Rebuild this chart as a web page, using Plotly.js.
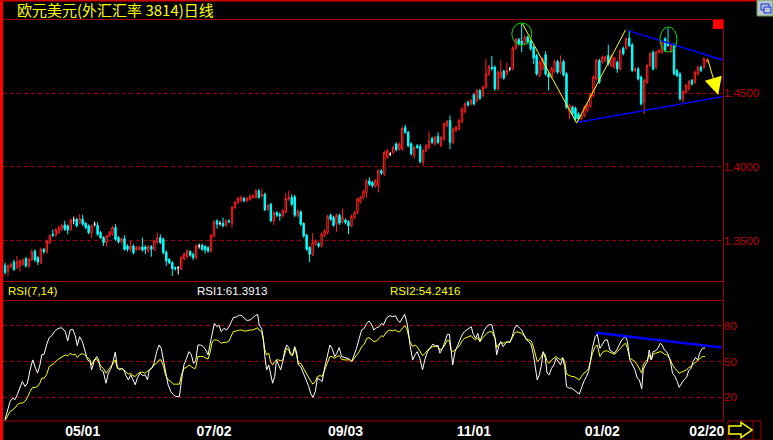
<!DOCTYPE html>
<html><head><meta charset="utf-8">
<script src="https://cdn.plot.ly/plotly-3.0.1.min.js"></script>
<style>html,body{margin:0;padding:0;background:#000;}#c{width:773px;height:440px;}</style>
</head><body><div id="c"></div>
<script>
// ---------- DATA ----------
const titleText = '欧元美元(外汇汇率 3814)日线';
const open = [
1.3332,1.3293,1.3323,1.3354,1.3316,1.3327,1.3339,1.3377,1.3327,1.3372,
1.3429,1.3384,1.3350,1.3441,1.3423,1.3486,1.3543,1.3536,1.3554,1.3577,
1.3606,1.3600,1.3577,1.3638,1.3645,1.3622,1.3645,1.3618,1.3600,1.3554,
1.3611,1.3604,1.3554,1.3520,1.3486,1.3532,1.3543,1.3588,1.3520,1.3491,
1.3513,1.3463,1.3436,1.3463,1.3441,1.3441,1.3457,1.3457,1.3429,1.3459,
1.3441,1.3491,1.3520,1.3509,1.3423,1.3372,1.3350,1.3316,1.3316,1.3309,
1.3377,1.3391,1.3425,1.3407,1.3384,1.3463,1.3468,1.3459,1.3452,1.3429,
1.3532,1.3634,1.3616,1.3618,1.3604,1.3634,1.3618,1.3725,1.3759,1.3770,
1.3786,1.3770,1.3780,1.3793,1.3793,1.3838,1.3802,1.3815,1.3713,1.3747,
1.3634,1.3690,1.3679,1.3668,1.3695,1.3782,1.3793,1.3797,1.3668,1.3695,
1.3616,1.3536,1.3452,1.3407,1.3475,1.3479,1.3463,1.3536,1.3554,1.3672,
1.3656,1.3616,1.3672,1.3627,1.3640,1.3627,1.3600,1.3656,1.3691,1.3763,
1.3793,1.3827,1.3906,1.3895,1.3872,1.3872,1.3974,1.3951,1.4065,1.4088,
1.4099,1.4156,1.4122,1.4122,1.4269,1.4235,1.4156,1.4076,1.4144,1.4140,
1.4031,1.4110,1.4133,1.4194,1.4156,1.4208,1.4144,1.4190,1.4280,1.4315,
1.4167,1.4247,1.4258,1.4308,1.4376,1.4440,1.4428,1.4489,1.4451,1.4519,
1.4485,1.4542,1.4632,1.4678,1.4678,1.4530,1.4610,1.4651,1.4632,1.4667,
1.4667,1.4807,1.4866,1.4853,1.4837,1.4882,1.4853,1.4814,1.4757,1.4621,
1.4666,1.4762,1.4632,1.4610,1.4648,1.4716,1.4644,1.4716,1.4632,1.4371,
1.4405,1.4398,1.4360,1.4326,1.4349,1.4383,1.4412,1.4485,1.4598,1.4723,
1.4712,1.4723,1.4757,1.4689,1.4678,1.4712,1.4666,1.4807,1.4807,1.4875,
1.4830,1.4655,1.4666,1.4610,1.4439,1.4575,1.4689,1.4780,1.4678,1.4780,
1.4780,1.4871,1.4848,1.4785,1.4830,1.4655,1.4632,1.4462,1.4507,1.4530,
1.4587,1.4575,1.4632,1.4678,1.4678,1.4716];
const high = [
1.3350,1.3339,1.3350,1.3370,1.3395,1.3372,1.3380,1.3390,1.3384,1.3441,
1.3440,1.3395,1.3452,1.3450,1.3507,1.3545,1.3577,1.3585,1.3600,1.3615,
1.3634,1.3610,1.3650,1.3663,1.3655,1.3679,1.3675,1.3625,1.3610,1.3611,
1.3630,1.3625,1.3565,1.3530,1.3540,1.3565,1.3600,1.3611,1.3530,1.3522,
1.3536,1.3475,1.3497,1.3475,1.3463,1.3465,1.3520,1.3468,1.3470,1.3470,
1.3507,1.3554,1.3543,1.3520,1.3432,1.3380,1.3360,1.3325,1.3327,1.3395,
1.3418,1.3441,1.3436,1.3418,1.3475,1.3480,1.3480,1.3470,1.3463,1.3545,
1.3640,1.3645,1.3634,1.3656,1.3645,1.3645,1.3735,1.3770,1.3797,1.3805,
1.3797,1.3797,1.3812,1.3815,1.3850,1.3850,1.3854,1.3825,1.3750,1.3757,
1.3700,1.3700,1.3690,1.3713,1.3822,1.3838,1.3815,1.3810,1.3713,1.3705,
1.3625,1.3545,1.3463,1.3550,1.3507,1.3490,1.3554,1.3577,1.3675,1.3684,
1.3668,1.3684,1.3684,1.3718,1.3650,1.3640,1.3675,1.3700,1.3790,1.3805,
1.3845,1.3918,1.3929,1.3905,1.3918,1.3985,1.3985,1.4110,1.4122,1.4100,
1.4145,1.4168,1.4168,1.4275,1.4285,1.4245,1.4168,1.4145,1.4155,1.4156,
1.4122,1.4156,1.4242,1.4205,1.4212,1.4235,1.4212,1.4303,1.4320,1.4349,
1.4270,1.4280,1.4326,1.4405,1.4440,1.4450,1.4462,1.4500,1.4530,1.4530,
1.4553,1.4735,1.4694,1.4753,1.4690,1.4655,1.4723,1.4662,1.4707,1.4680,
1.4818,1.4878,1.4878,1.4973,1.4893,1.4893,1.4865,1.4825,1.4768,1.4723,
1.4746,1.4785,1.4644,1.4678,1.4728,1.4728,1.4757,1.4728,1.4644,1.4428,
1.4417,1.4410,1.4371,1.4360,1.4417,1.4432,1.4507,1.4621,1.4735,1.4735,
1.4757,1.4757,1.4830,1.4765,1.4750,1.4723,1.4802,1.4818,1.4882,1.4932,
1.4841,1.4678,1.4678,1.4621,1.4598,1.4700,1.4780,1.4791,1.4791,1.4802,
1.4860,1.4882,1.4943,1.4841,1.4841,1.4666,1.4644,1.4523,1.4564,1.4591,
1.4598,1.4655,1.4689,1.4689,1.4746,1.4735];
const low = [
1.3270,1.3259,1.3310,1.3293,1.3305,1.3289,1.3327,1.3316,1.3316,1.3361,
1.3357,1.3334,1.3340,1.3410,1.3410,1.3475,1.3525,1.3525,1.3545,1.3565,
1.3565,1.3543,1.3565,1.3611,1.3590,1.3611,1.3600,1.3577,1.3543,1.3520,
1.3595,1.3532,1.3510,1.3463,1.3459,1.3525,1.3532,1.3500,1.3480,1.3480,
1.3430,1.3425,1.3425,1.3405,1.3430,1.3432,1.3425,1.3407,1.3418,1.3391,
1.3430,1.3480,1.3475,1.3405,1.3327,1.3340,1.3259,1.3295,1.3270,1.3300,
1.3365,1.3380,1.3390,1.3368,1.3372,1.3445,1.3430,1.3411,1.3418,1.3420,
1.3520,1.3581,1.3600,1.3590,1.3593,1.3618,1.3588,1.3715,1.3748,1.3760,
1.3760,1.3760,1.3770,1.3785,1.3785,1.3785,1.3793,1.3700,1.3700,1.3625,
1.3606,1.3660,1.3636,1.3656,1.3684,1.3770,1.3735,1.3660,1.3656,1.3600,
1.3520,1.3430,1.3354,1.3395,1.3465,1.3452,1.3452,1.3525,1.3543,1.3634,
1.3593,1.3559,1.3606,1.3616,1.3611,1.3543,1.3590,1.3645,1.3680,1.3752,
1.3782,1.3793,1.3870,1.3860,1.3860,1.3827,1.3945,1.3940,1.4055,1.4075,
1.4088,1.4105,1.4110,1.4110,1.4225,1.4133,1.4077,1.4058,1.4122,1.4024,
1.4008,1.4099,1.4122,1.4155,1.4145,1.4155,1.4133,1.4178,1.4270,1.4122,
1.4155,1.4235,1.4247,1.4297,1.4365,1.4410,1.4418,1.4418,1.4440,1.4455,
1.4474,1.4530,1.4620,1.4655,1.4518,1.4518,1.4598,1.4592,1.4620,1.4650,
1.4655,1.4795,1.4825,1.4780,1.4825,1.4837,1.4790,1.4700,1.4620,1.4610,
1.4655,1.4620,1.4519,1.4598,1.4637,1.4632,1.4632,1.4615,1.4394,1.4326,
1.4349,1.4315,1.4315,1.4315,1.4337,1.4371,1.4400,1.4474,1.4587,1.4564,
1.4700,1.4712,1.4689,1.4678,1.4666,1.4639,1.4655,1.4757,1.4795,1.4814,
1.4644,1.4644,1.4587,1.4417,1.4360,1.4564,1.4678,1.4655,1.4666,1.4769,
1.4769,1.4780,1.4814,1.4773,1.4621,1.4610,1.4451,1.4439,1.4496,1.4519,
1.4553,1.4564,1.4621,1.4644,1.4666,1.4705];
const close = [
1.3282,1.3327,1.3339,1.3304,1.3354,1.3361,1.3368,1.3327,1.3372,1.3422,
1.3368,1.3354,1.3441,1.3423,1.3497,1.3532,1.3536,1.3572,1.3588,1.3604,
1.3577,1.3572,1.3640,1.3638,1.3600,1.3650,1.3611,1.3588,1.3554,1.3600,
1.3611,1.3543,1.3520,1.3486,1.3532,1.3554,1.3588,1.3509,1.3491,1.3513,
1.3441,1.3441,1.3463,1.3418,1.3452,1.3454,1.3436,1.3441,1.3459,1.3441,
1.3497,1.3520,1.3486,1.3418,1.3361,1.3350,1.3309,1.3309,1.3316,1.3384,
1.3407,1.3429,1.3400,1.3384,1.3463,1.3463,1.3441,1.3436,1.3429,1.3536,
1.3627,1.3611,1.3616,1.3600,1.3634,1.3627,1.3725,1.3759,1.3786,1.3793,
1.3770,1.3786,1.3802,1.3802,1.3838,1.3793,1.3815,1.3709,1.3740,1.3634,
1.3690,1.3672,1.3668,1.3702,1.3786,1.3793,1.3747,1.3672,1.3702,1.3611,
1.3532,1.3441,1.3407,1.3486,1.3497,1.3463,1.3543,1.3565,1.3663,1.3645,
1.3604,1.3672,1.3618,1.3656,1.3622,1.3600,1.3663,1.3689,1.3781,1.3793,
1.3831,1.3906,1.3883,1.3872,1.3906,1.3974,1.3958,1.4099,1.4110,1.4088,
1.4133,1.4117,1.4156,1.4262,1.4235,1.4144,1.4088,1.4133,1.4133,1.4035,
1.4110,1.4144,1.4178,1.4167,1.4201,1.4167,1.4201,1.4292,1.4308,1.4167,
1.4258,1.4269,1.4315,1.4394,1.4428,1.4421,1.4451,1.4428,1.4519,1.4467,
1.4542,1.4632,1.4682,1.4667,1.4530,1.4644,1.4644,1.4603,1.4655,1.4667,
1.4807,1.4866,1.4837,1.4837,1.4882,1.4848,1.4803,1.4739,1.4632,1.4712,
1.4735,1.4632,1.4610,1.4667,1.4716,1.4644,1.4712,1.4626,1.4405,1.4417,
1.4360,1.4326,1.4326,1.4349,1.4405,1.4421,1.4496,1.4610,1.4723,1.4576,
1.4746,1.4746,1.4700,1.4753,1.4739,1.4666,1.4791,1.4769,1.4871,1.4825,
1.4655,1.4666,1.4598,1.4428,1.4587,1.4689,1.4769,1.4666,1.4780,1.4791,
1.4848,1.4791,1.4825,1.4830,1.4632,1.4621,1.4462,1.4512,1.4553,1.4580,
1.4564,1.4644,1.4678,1.4655,1.4735,1.4723];

const tickDays = [26, 70, 114, 157, 200, 235];
const tickLabels = ['05/01', '07/02', '09/03', '11/01', '01/02', '02/20'];
const priceTicks = [1.35, 1.40, 1.45];
const rsiTicks = [20, 50, 80];

const rsiDay = [
0,0.8,1.7,2.6,3.3,4.1,5.0,5.8,6.7,7.5,
8.4,9.3,10.2,10.9,11.7,12.3,13.1,13.9,14.8,15.7,
16.5,17.5,18.6,19.3,20.2,21.0,21.8,22.7,23.5,24.2,
25.0,25.9,26.7,27.6,28.5,29.0,29.8,30.7,31.4,32.0,
32.9,33.8,34.6,35.5,36.3,36.9,37.6,38.3,39.1,39.8,
40.5,41.3,42.1,42.7,43.6,44.3,45.2,46.1,46.9,47.7,
48.3,49.1,49.9,50.8,51.6,52.3,53.1,53.8,54.6,55.5,
56.4,57.2,58.4,59.1,59.9,60.8,61.6,62.4,63.1,63.8,
64.6,65.5,66.4,67.2,68.0,68.6,69.4,70.1,70.9,71.6,
72.4,73.3,74.2,75.0,75.8,76.4,77.6,78.5,79.3,80.1,
80.9,82.0,82.9,83.8,84.6,85.1,85.9,86.5,87.0,87.6,
88.3,88.9,89.6,90.3,90.9,91.6,92.3,93.0,93.7,94.3,
95.0,95.6,96.3,97.0,97.6,98.2,99.0,99.9,100.8,101.7,
102.3,103.1,103.9,104.6,105.5,106.2,107.1,107.9,108.8,109.5,
110.4,111.1,111.9,112.7,113.5,114.4,115.3,116.1,116.8,117.7,
118.6,119.4,120.3,
121.1,121.9,122.8,123.5,124.4,125.3,126.1,126.7,127.8,128.9,
129.8,130.7,131.5,132.2,133.0,133.8,134.5,135.0,135.6,136.5,
137.3,138.0,138.9,139.8,140.7,141.5,142.3,143.2,144.1,145.0,
145.6,146.5,147.3,148.1,148.8,149.3,149.9,150.7,151.4,152.3,
153.0,153.8,154.6,155.5,156.1,156.8,157.6,158.3,159.0,159.8,
160.5,161.3,162.2,163.0,163.5,164.1,164.6,165.3,166.0,166.8,
167.6,168.4,169.0,169.8,170.6,171.4,172.2,173.0,173.8,174.6,
175.4,176.2,176.9,177.5,178.2,178.9,179.6,180.2,180.9,181.5,
182.2,183.0,183.8,184.5,185.2,186.0,186.7,187.4,188.0,188.8,
189.7,190.5,191.4,192.3,193.0,193.8,194.7,195.4,196.0,196.7,
197.6,198.3,199.2,200.1,200.9,201.7,202.5,203.3,204.1,204.8,
205.6,206.3,207.0,207.8,208.4,209.2,210.1,210.9,211.7,212.4,
213.2,213.7,214.4,215.1,215.7,216.4,217.0,217.8,218.6,219.4,
220.0,220.8,221.5,222.1,222.8,223.5,224.3,225.1,225.7,226.5,
227.3,228.2,228.9,229.7,230.4,231.2,231.9,232.7,233.5,234.4];
const rsi1 = [
1.4,8.3,16.7,19.4,18.1,22.2,27.8,33.3,29.2,32.0,
43.1,51.4,44.4,40.3,47.2,55.6,56.1,63.9,70.0,71.7,
75.0,77.2,78.3,77.8,75.0,67.2,76.4,77.0,71.7,63.3,
70.8,66.7,59.7,51.4,50.0,43.1,50.0,54.2,51.4,43.1,
41.7,31.9,40.3,44.4,51.4,57.8,45.8,43.1,44.4,43.1,
38.3,34.7,38.9,36.1,30.6,36.1,40.3,38.3,38.9,34.7,
43.1,44.4,48.6,58.3,63.9,61.1,50.0,40.3,30.6,25.0,
22.2,20.8,20.8,34.7,47.2,52.8,58.3,55.6,48.6,50.0,
63.9,63.9,62.5,59.7,55.6,63.9,75.0,82.0,79.2,80.6,
75.0,77.8,76.4,79.2,83.3,86.7,87.5,88.9,88.4,86.7,
84.5,84.7,86.7,88.4,89.5,80.6,77.8,69.4,54.2,43.1,
47.2,38.9,31.9,37.5,51.4,47.2,43.1,50.0,59.7,63.9,
61.7,57.0,55.6,62.5,58.3,47.2,45.8,40.3,34.7,29.2,
23.6,20.0,25.0,36.1,34.7,33.3,45.8,54.2,63.9,61.1,
54.2,57.0,61.7,54.2,53.4,52.8,52.2,50.0,54.2,61.1,
69.4,76.4,77.8,
82.0,83.9,80.6,76.4,78.3,79.2,82.0,80.6,86.7,88.4,
87.5,88.4,84.7,82.8,86.1,89.5,83.3,76.4,63.9,51.4,
55.6,58.3,52.8,43.1,52.8,58.3,61.1,64.5,63.3,63.3,
57.0,61.1,66.7,72.8,72.8,58.3,47.2,58.3,62.5,66.7,
72.2,75.0,76.4,77.8,79.2,72.8,69.4,73.6,66.7,72.2,
76.4,79.2,81.1,80.6,75.0,69.4,55.6,62.5,66.7,62.5,
65.3,66.7,65.8,70.8,77.8,80.6,78.3,76.4,72.2,68.1,
66.7,63.9,56.1,47.2,34.7,38.9,47.2,58.3,52.8,40.3,
38.9,44.4,47.2,52.8,50.0,47.2,52.8,45.8,29.2,27.8,
27.8,26.4,25.0,22.8,27.8,33.3,37.5,41.7,50.0,61.7,
70.8,72.8,61.1,65.3,68.1,68.1,59.7,58.3,57.0,59.7,
63.9,67.2,69.4,70.8,66.7,51.4,47.2,43.1,36.1,34.7,
27.2,43.1,47.2,50.0,59.7,51.4,58.3,58.9,61.1,65.3,
63.9,59.7,58.3,55.6,50.0,40.3,37.5,33.3,28.4,32.0,
34.7,36.7,42.2,44.4,50.0,53.4,51.4,57.8,61.1,61.4];
const rsi2 = [
0.6,4.2,8.3,9.7,11.1,13.9,15.3,15.3,16.7,20.0,
25.0,28.4,28.4,29.2,32.0,36.1,36.1,38.9,45.8,47.2,
48.6,51.4,53.4,54.2,55.6,54.7,57.0,55.6,56.1,53.4,
55.6,56.7,55.6,53.4,51.4,47.2,51.4,52.2,48.6,46.4,
44.4,40.3,43.1,45.8,48.6,51.4,44.4,43.9,43.9,43.1,
41.1,39.5,40.3,38.3,37.5,39.5,41.1,41.1,40.3,42.2,
43.1,44.4,47.2,48.6,51.4,51.4,45.8,38.3,34.7,33.3,
31.1,31.1,31.1,38.9,44.4,45.0,47.2,45.8,44.4,44.4,
54.2,54.2,54.2,52.8,52.2,57.0,66.7,68.1,68.1,67.2,
65.3,66.1,66.1,67.2,72.2,75.0,75.6,76.4,76.4,75.6,
75.6,76.4,76.4,77.2,78.3,76.4,75.0,68.1,59.7,55.6,
57.0,50.0,47.2,50.0,51.4,51.4,50.6,51.4,57.0,61.1,
59.7,55.6,55.0,61.1,55.6,48.6,48.6,44.4,40.3,36.1,
33.9,31.1,33.3,37.5,38.3,37.5,44.4,48.6,54.2,54.2,
52.8,54.2,55.0,52.0,51.4,51.4,51.4,50.0,52.2,55.0,
58.3,62.5,64.4,
69.4,70.0,68.1,66.7,67.2,70.0,71.7,70.8,75.0,76.4,
75.6,76.4,75.0,75.0,77.8,80.0,77.8,72.8,66.7,62.5,
63.9,62.5,58.3,55.0,57.0,59.7,61.1,62.5,62.5,62.5,
59.7,61.1,63.9,68.1,67.2,59.7,58.3,59.7,61.1,63.9,
67.2,69.4,70.0,70.8,71.7,69.4,68.1,70.0,66.7,69.4,
71.7,73.6,75.0,75.0,72.2,69.4,61.7,64.5,66.1,65.3,
66.1,66.7,66.1,69.4,73.6,75.0,74.5,73.6,71.7,68.9,
68.1,67.2,62.5,57.0,50.0,51.4,54.2,57.8,55.6,50.0,
48.6,51.4,52.8,54.2,52.8,51.4,53.4,50.0,39.5,38.3,
37.5,37.5,36.1,34.7,37.5,40.3,41.7,44.4,50.0,57.0,
62.5,63.9,54.2,57.8,58.9,58.9,57.8,57.0,56.1,57.8,
59.7,61.7,63.9,65.3,61.1,52.8,51.4,50.0,47.2,44.4,
40.3,47.2,50.0,51.4,55.6,51.4,56.1,57.0,57.8,58.3,
57.8,56.1,55.6,54.2,51.4,47.2,44.4,41.7,40.3,41.1,
42.2,43.1,45.0,45.8,47.8,49.5,50.6,52.8,54.2,54.2];
const rsiLabel = 'RSI(7,14)';
const rsi1Label = 'RSI1:61.3913';
const rsi2Label = 'RSI2:54.2416';

// user-drawn overlays (day index, price)
const zigzagDay = [173.3, 191.4, 207.8];
const zigzagPrice = [1.4971, 1.4298, 1.4932];
const upperTrendDay = [208.7, 241.0];
const upperTrendPrice = [1.4926, 1.4722];
const lowerTrendDay = [191.9, 241.0];
const lowerTrendPrice = [1.4303, 1.4480];
const arrowFrom = [235.1, 1.4745];
const arrowTo = [238.8, 1.4488];
const circle1 = [169.7, 176.4, 1.4828, 1.4978];
const circle2 = [219.3, 225.0, 1.4781, 1.4951];
const rsiTrendDay = [197.9, 239.9];
const rsiTrendVal = [74.2, 61.7];

// ---------- LAYOUT HELPERS ----------
const L = 3, R = 723, T = 19, B = 421;
const X = px => (px - L) / (R - L);
const Y = py => (B - py) / (B - T);
const FRAME = '#a00000';

const days = open.map((_, i) => i);
const isDoji = open.map((o, i) => o === close[i]);
function pick(arr, keep) { return arr.filter((_, i) => keep(i)); }
const normal = i => !isDoji[i];
const doji = i => isDoji[i];

const traces = [
  { type: 'candlestick', x: pick(days, normal), open: pick(open, normal), high: pick(high, normal),
    low: pick(low, normal), close: pick(close, normal), xaxis: 'x', yaxis: 'y',
    increasing: { line: { color: '#ff2020', width: 1 }, fillcolor: '#000000' },
    decreasing: { line: { color: '#00ffff', width: 1 }, fillcolor: '#00ffff' },
    whiskerwidth: 0, hoverinfo: 'skip', showlegend: false },
  { type: 'candlestick', x: pick(days, doji), open: pick(open, doji), high: pick(high, doji),
    low: pick(low, doji), close: pick(close, doji), xaxis: 'x', yaxis: 'y',
    increasing: { line: { color: '#ffffff', width: 1 }, fillcolor: '#ffffff' },
    decreasing: { line: { color: '#ffffff', width: 1 }, fillcolor: '#ffffff' },
    whiskerwidth: 0, hoverinfo: 'skip', showlegend: false },
  { type: 'scatter', mode: 'lines', x: zigzagDay, y: zigzagPrice, xaxis: 'x', yaxis: 'y',
    line: { color: '#ffff00', width: 1 }, hoverinfo: 'skip', showlegend: false },
  { type: 'scatter', mode: 'lines', x: upperTrendDay, y: upperTrendPrice, xaxis: 'x', yaxis: 'y',
    line: { color: '#0000ff', width: 1.5 }, hoverinfo: 'skip', showlegend: false },
  { type: 'scatter', mode: 'lines', x: lowerTrendDay, y: lowerTrendPrice, xaxis: 'x', yaxis: 'y',
    line: { color: '#0000ff', width: 1.5 }, hoverinfo: 'skip', showlegend: false },
  { type: 'scatter', mode: 'lines', x: rsiDay, y: rsi2, xaxis: 'x', yaxis: 'y2',
    line: { color: '#ffff00', width: 1 }, hoverinfo: 'skip', showlegend: false },
  { type: 'scatter', mode: 'lines', x: rsiDay, y: rsi1, xaxis: 'x', yaxis: 'y2',
    line: { color: '#ffffff', width: 1 }, hoverinfo: 'skip', showlegend: false },
  { type: 'scatter', mode: 'lines', x: rsiTrendDay, y: rsiTrendVal, xaxis: 'x', yaxis: 'y2',
    line: { color: '#0000ff', width: 2.5 }, hoverinfo: 'skip', showlegend: false }
];

const axisFont = { family: 'Liberation Sans, Arial, sans-serif', size: 11.5, color: '#c00000' };
const hline = (py, x0, x1, color, w) => ({ type: 'line', xref: 'paper', yref: 'paper',
  x0: X(x0), x1: X(x1), y0: Y(py), y1: Y(py), line: { color: color, width: w || 1 } });
const vline = (px, y0, y1, color, w) => ({ type: 'line', xref: 'paper', yref: 'paper',
  x0: X(px), x1: X(px), y0: Y(y0), y1: Y(y1), line: { color: color, width: w || 1 } });
const rect = (x0, y0, x1, y1, fill, lc) => ({ type: 'rect', xref: 'paper', yref: 'paper',
  x0: X(x0), x1: X(x1), y0: Y(y1), y1: Y(y0), fillcolor: fill,
  line: { color: lc || fill, width: lc ? 1 : 0 } });
const path = (pts, color) => ({ type: 'path', xref: 'paper', yref: 'paper',
  path: 'M' + pts.map(p => X(p[0]) + ',' + Y(p[1])).join(' L') + ' Z',
  line: { color: color, width: 1.5 } });

const shapes = [
  rect(0, 0, 3, 440, '#ff0000'),
  hline(0.8, 0, 757, '#d00000', 1.6),
  hline(19.5, 3, 723, FRAME),
  hline(281.5, 3, 723, FRAME),
  hline(300.5, 3, 723, FRAME),
  hline(421, 3, 723, FRAME),
  vline(723.5, 19, 421, FRAME),
  rect(713, 20, 723, 29, '#ff0000'),
  { type: 'circle', xref: 'x', yref: 'y', x0: circle1[0], x1: circle1[1], y0: circle1[2], y1: circle1[3],
    line: { color: '#00e000', width: 1 } },
  { type: 'circle', xref: 'x', yref: 'y', x0: circle2[0], x1: circle2[1], y0: circle2[2], y1: circle2[3],
    line: { color: '#00e000', width: 1 } },
  rect(757, 0, 773, 16, '#b8c4cc', '#6a9a40'),
  rect(761, 4, 769, 10, '#b8c4cc', '#1030e0'),
  rect(764, 7, 771, 13, '#b8c4cc', '#1030e0'),
  rect(728, 421, 761, 440, 'rgba(0,0,0,0)', FRAME),
  vline(753, 421, 440, FRAME),
  path([[729, 426], [741, 426], [741, 422.5], [752, 430], [741, 437.5], [741, 434], [729, 434]], '#ffff00')
];

const annFont = (c) => ({ family: 'Liberation Sans, Arial, sans-serif', size: 11.5, color: c });
const annotations = [
  { xref: 'paper', yref: 'paper', x: X(6), y: Y(291), xanchor: 'left', yanchor: 'middle',
    text: rsiLabel, showarrow: false, font: annFont('#ffff00') },
  { xref: 'paper', yref: 'paper', x: X(195), y: Y(291), xanchor: 'left', yanchor: 'middle',
    text: rsi1Label, showarrow: false, font: annFont('#ffffff') },
  { xref: 'paper', yref: 'paper', x: X(388), y: Y(291), xanchor: 'left', yanchor: 'middle',
    text: rsi2Label, showarrow: false, font: annFont('#ffff00') },
  { xref: 'x', yref: 'y', axref: 'x', ayref: 'y', x: arrowTo[0], y: arrowTo[1],
    ax: arrowFrom[0], ay: arrowFrom[1], showarrow: true, arrowhead: 2, arrowsize: 3.5,
    arrowwidth: 1, arrowcolor: '#ffff00', text: '' }
];

const layout = {
  width: 773, height: 440,
  paper_bgcolor: '#000000', plot_bgcolor: '#000000',
  margin: { l: L, r: 773 - R, t: T, b: 440 - B, pad: 0 },
  showlegend: false, hovermode: false,
  title: { text: titleText, xref: 'container', yref: 'container', x: 17 / 773, xanchor: 'left',
    y: 1 - 11 / 440, yanchor: 'middle', pad: { t: 0, b: 0, l: 0, r: 0 },
    font: { family: 'Noto Sans CJK SC, sans-serif', size: 15, color: '#ffff00' } },
  xaxis: { range: [-0.67, 240.4], anchor: 'y2', domain: [0, 1], showgrid: false, zeroline: false,
    showline: false, ticks: '', tickvals: tickDays, ticktext: tickLabels,
    tickfont: { family: 'Liberation Sans, Arial, sans-serif', size: 14, color: '#ffffff', weight: 'bold' },
    rangeslider: { visible: false }, fixedrange: true },
  yaxis: { domain: [Y(281.5), 1], range: [1.3222, 1.5005], side: 'right', anchor: 'x',
    tickvals: priceTicks, tickformat: '.4f', ticks: '', tickfont: axisFont,
    showgrid: true, gridcolor: FRAME, griddash: '4px,3px', gridwidth: 1, zeroline: false, showline: false,
    fixedrange: true },
  yaxis2: { domain: [0, Y(300.5)], range: [0.28, 101.1], side: 'right', anchor: 'x',
    tickvals: rsiTicks, ticks: '', tickfont: axisFont,
    showgrid: true, gridcolor: FRAME, griddash: '4px,3px', gridwidth: 1, zeroline: false, showline: false,
    fixedrange: true },
  shapes: shapes,
  annotations: annotations
};

Plotly.newPlot('c', traces, layout, { staticPlot: true, displayModeBar: false });
</script>
</body></html>
